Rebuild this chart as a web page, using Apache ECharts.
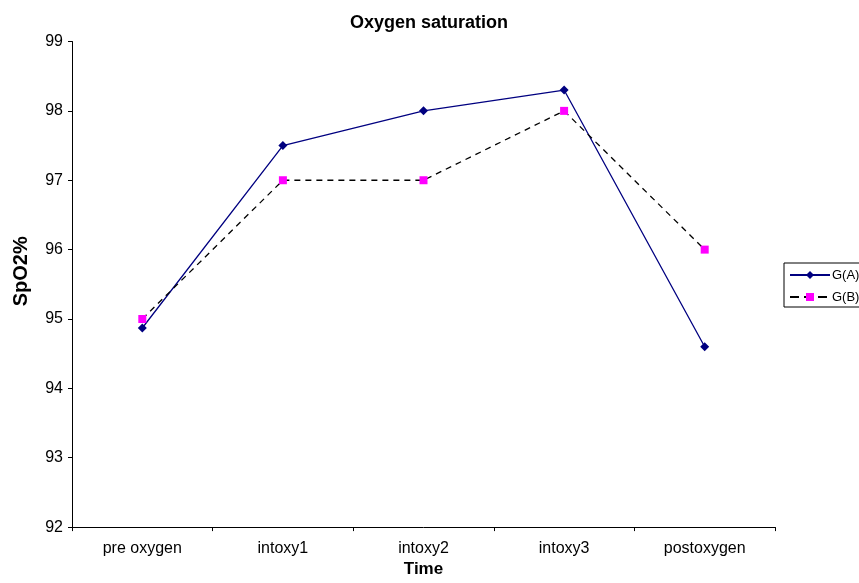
<!DOCTYPE html>
<html>
<head>
<meta charset="utf-8">
<script src="https://cdn.jsdelivr.net/npm/echarts@6/dist/echarts.min.js"></script>
<style>
  html, body { margin: 0; padding: 0; background: #fff; }
  #charts { width: 859px; height: 583px; }
</style>
</head>
<body>
<div id="charts"></div>
<script>
var categories = ['pre oxygen', 'intoxy1', 'intoxy2', 'intoxy3', 'postoxygen'];
var seriesA = [94.87, 97.5, 98, 98.3, 94.6];
var seriesB = [95, 97, 97, 98, 96];
var yTicks = [92, 93, 94, 95, 96, 97, 98, 99];

var chart = echarts.init(document.getElementById('charts'));
var font = 'Liberation Sans';

var option = {
    backgroundColor: '#fff',
    animation: false,
    title: {
        text: 'Oxygen saturation',
        left: 424,
        textAlign: 'center',
        top: 9,
        textStyle: { fontFamily: font, fontSize: 18, fontWeight: 'bold', color: '#000' }
    },
    legend: {
        orient: 'vertical',
        left: 784,
        top: 263,
        itemWidth: 40,
        itemHeight: 10,
        itemGap: 8,
        padding: [5, 6, 3, 5],
        borderColor: '#000',
        borderWidth: 1,
        textStyle: { fontFamily: font, fontSize: 13, lineHeight: 14, color: '#000', padding: [0, 0, 0, -3] },
        data: [
            { name: 'G(A)' },
            { name: 'G(B)', lineStyle: { width: 2, type: [9, 5] } }
        ]
    },
    grid: {
        left: 72,
        right: 84,
        top: 41.5,
        bottom: 54.5
    },
    xAxis: {
        type: 'category',
        data: categories,
        boundaryGap: true,
        name: 'Time',
        nameLocation: 'middle',
        nameGap: 27,
        nameTextStyle: { fontFamily: font, fontSize: 17, fontWeight: 'bold', color: '#000' },
        axisLine: { lineStyle: { color: '#000', width: 1 } },
        axisTick: { show: true, length: 4, lineStyle: { color: '#000' } },
        axisLabel: { fontFamily: font, fontSize: 16, color: '#000', margin: 13 },
        splitLine: { show: false }
    },
    yAxis: {
        type: 'value',
        min: yTicks[0],
        max: yTicks[yTicks.length - 1],
        interval: 1,
        name: 'SpO2%',
        nameLocation: 'middle',
        nameGap: 41,
        nameTextStyle: { fontFamily: font, fontSize: 20, fontWeight: 'bold', color: '#000', padding: [0, 0, 0, 26] },
        axisLine: { show: true, lineStyle: { color: '#000', width: 1 } },
        axisTick: { show: true, length: 4, lineStyle: { color: '#000' } },
        axisLabel: { fontFamily: font, fontSize: 16, color: '#000', margin: 9 },
        splitLine: { show: false }
    },
    series: [
        {
            name: 'G(A)',
            type: 'line',
            data: seriesA,
            symbol: 'diamond',
            symbolSize: 9,
            itemStyle: { color: '#000080' },
            lineStyle: { color: '#000080', width: 1.3 }
        },
        {
            name: 'G(B)',
            type: 'line',
            data: seriesB,
            symbol: 'rect',
            symbolSize: 8,
            itemStyle: { color: '#FF00FF' },
            lineStyle: { color: '#000', width: 1.3, type: [6, 5] }
        }
    ]
};

chart.setOption(option);
</script>
</body>
</html>
